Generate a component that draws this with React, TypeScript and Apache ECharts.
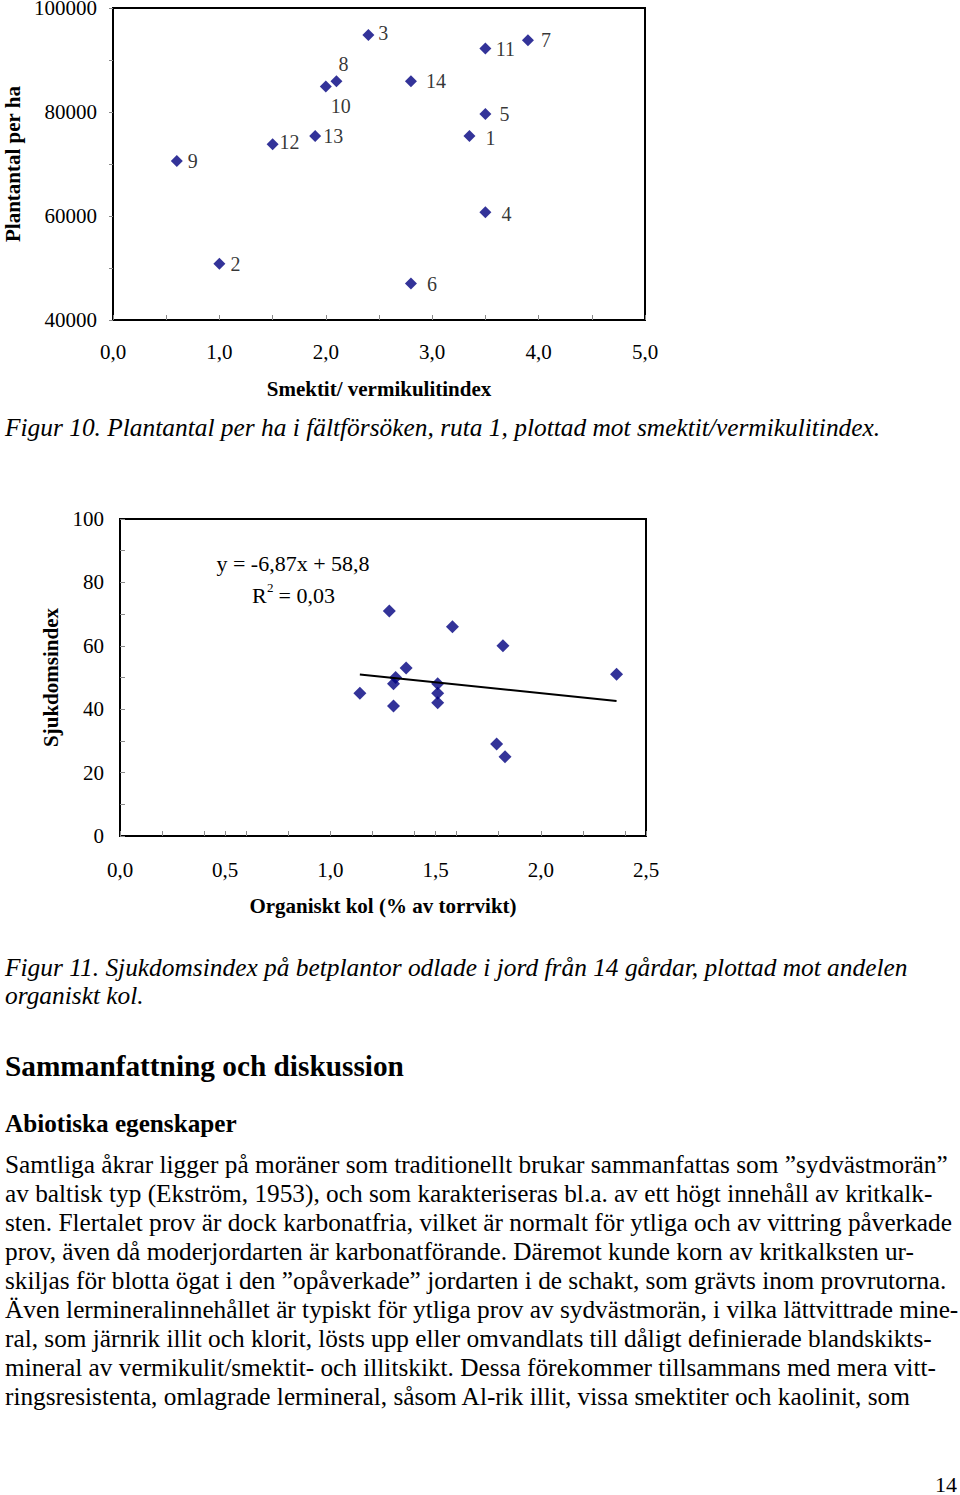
import React, { useEffect, useRef } from "react";
import * as echarts from "echarts";

const F = '"Liberation Serif", "Times New Roman", serif';

// Figur 10 – plantantal vs smektit/vermikulitindex
const fig10Ids = ["9", "2", "12", "13", "10", "8", "3", "14", "6", "1", "11", "5", "4", "7"];
const fig10X = [0.6, 1.0, 1.5, 1.9, 2.0, 2.1, 2.4, 2.8, 2.8, 3.35, 3.5, 3.5, 3.5, 3.9];
const fig10Y = [70600, 50800, 73800, 75400, 84900, 85900, 94800, 85900, 47000, 75400, 92200, 79600, 60700, 93800];
// label offsets (px) relative to each marker, same order as fig10Ids
const fig10LabelOffsets = [
  [16, 0], [16, 0], [17, -2], [18, 0], [15, 19], [7, -17], [15, -2],
  [25, 0], [21, 0], [21, 2], [20, 0], [19, 0], [21, 2], [18, 0],
];

// Figur 11 – sjukdomsindex vs organiskt kol
const fig11X = [1.28, 1.58, 1.82, 2.36, 1.36, 1.31, 1.3, 1.14, 1.3, 1.51, 1.51, 1.51, 1.79, 1.83];
const fig11Y = [71, 66, 60, 51, 53, 50, 48, 45, 41, 48, 45, 42, 29, 25];
const trendSlope = -6.87;
const trendIntercept = 58.8;

const fig10Caption = "Figur 10. Plantantal per ha i fältförsöken, ruta 1, plottad mot smektit/vermikulitindex.";
const fig11Caption = [
  "Figur 11. Sjukdomsindex på betplantor odlade i jord från 14 gårdar, plottad mot andelen",
  "organiskt kol.",
];
const heading = "Sammanfattning och diskussion";
const subheading = "Abiotiska egenskaper";
const bodyLines = [
  "Samtliga åkrar ligger på moräner som traditionellt brukar sammanfattas som ”sydvästmorän”",
  "av baltisk typ (Ekström, 1953), och som karakteriseras bl.a. av ett högt innehåll av kritkalk-",
  "sten. Flertalet prov är dock karbonatfria, vilket är normalt för ytliga och av vittring påverkade",
  "prov, även då moderjordarten är karbonatförande. Däremot kunde korn av kritkalksten ur-",
  "skiljas för blotta ögat i den ”opåverkade” jordarten i de schakt, som grävts inom provrutorna.",
  "Även lermineralinnehållet är typiskt för ytliga prov av sydvästmorän, i vilka lättvittrade mine-",
  "ral, som järnrik illit och klorit, lösts upp eller omvandlats till dåligt definierade blandskikts-",
  "mineral av vermikulit/smektit- och illitskikt. Dessa förekommer tillsammans med mera vitt-",
  "ringsresistenta, omlagrade lermineral, såsom Al-rik illit, vissa smektiter och kaolinit, som",
];
const pageNumber = "14";

const comma = (v: number) => v.toFixed(1).replace(".", ",");

export default function App() {
  const ref = useRef<HTMLDivElement>(null);

  useEffect(() => {
    document.body.style.margin = "0";
    if (!ref.current) return;
    const chart = echarts.init(ref.current, null, { renderer: "svg" });

    const tickStyle = { color: "#8a8a8a", width: 1 };
    const axisLineStyle = { show: true, lineStyle: { color: "#000", width: 2 } };
    const labelStyle = { color: "#000", fontFamily: F, fontSize: 21 };
    const nameStyle = { color: "#000", fontFamily: F, fontSize: 21, fontWeight: "bold" as const };

    const trendXs = [Math.min(...fig11X), Math.max(...fig11X)];
    const trendData = trendXs.map((x) => [x, trendSlope * x + trendIntercept]);

    const textEl = (text: string, x: number, y: number, size: number, extra: any = {}) => ({
      type: "text",
      x,
      y,
      style: {
        text,
        fill: "#000",
        fontFamily: F,
        fontSize: size,
        verticalAlign: "middle",
        align: "left",
        ...extra,
      },
    });

    const graphics: any[] = [
      textEl("y = -6,87x + 58,8", 293, 563, 22, { align: "center" }),
      textEl("R", 252, 595, 22),
      textEl("2", 267, 587, 13),
      textEl(" = 0,03", 273, 595, 22),
      textEl(fig10Caption, 5, 427, 25.4, { fontStyle: "italic" }),
      textEl(fig11Caption[0], 5, 967, 25.4, { fontStyle: "italic" }),
      textEl(fig11Caption[1], 5, 995, 25.4, { fontStyle: "italic" }),
      textEl(heading, 5, 1066, 29.3, { fontWeight: "bold" }),
      textEl(subheading, 5, 1123, 25.2, { fontWeight: "bold" }),
      ...bodyLines.map((l, i) => textEl(l, 5, 1164 + i * 29, 25.3)),
      textEl(pageNumber, 946, 1484, 22, { align: "center" }),
    ];

    chart.setOption({
      animation: false,
      backgroundColor: "#fff",
      grid: [
        { left: 113, top: 8, width: 532, height: 312, show: true, borderColor: "#000", borderWidth: 2, containLabel: false, outerBoundsMode: "none" },
        { left: 120, top: 519, width: 526, height: 317, show: true, borderColor: "#000", borderWidth: 2, containLabel: false, outerBoundsMode: "none" },
      ],
      xAxis: [
        {
          gridIndex: 0,
          type: "value",
          min: 0,
          max: 5,
          interval: 1,
          axisLine: axisLineStyle,
          axisTick: { show: true, inside: true, length: 5, lineStyle: tickStyle },
          minorTick: { show: true, splitNumber: 2, length: 5, lineStyle: tickStyle },
          splitLine: { show: false },
          axisLabel: { ...labelStyle, margin: 21, formatter: comma },
          name: "Smektit/ vermikulitindex",
          nameLocation: "middle",
          nameGap: 58,
          nameTextStyle: nameStyle,
        },
        {
          gridIndex: 1,
          type: "value",
          min: 0,
          max: 2.5,
          interval: 0.5,
          axisLine: axisLineStyle,
          axisTick: { show: true, inside: true, length: 5, lineStyle: tickStyle },
          splitLine: { show: false },
          axisLabel: { ...labelStyle, margin: 23, formatter: comma },
          name: "Organiskt kol (% av torrvikt)",
          nameLocation: "middle",
          nameGap: 59,
          nameTextStyle: nameStyle,
        },
        {
          gridIndex: 1,
          type: "value",
          position: "bottom",
          min: 0,
          max: 2.5,
          interval: 0.2,
          axisLine: { show: false },
          axisTick: { show: true, inside: true, length: 5, lineStyle: tickStyle },
          axisLabel: { show: false },
          splitLine: { show: false },
        },
      ],
      yAxis: [
        {
          gridIndex: 0,
          type: "value",
          min: 40000,
          max: 100000,
          interval: 20000,
          axisLine: axisLineStyle,
          axisTick: { show: true, inside: false, length: 4, lineStyle: tickStyle },
          minorTick: { show: true, splitNumber: 2, length: 4, lineStyle: tickStyle },
          splitLine: { show: false },
          axisLabel: { ...labelStyle, margin: 16, formatter: (v: number) => String(v) },
          name: "Plantantal per ha",
          nameLocation: "middle",
          nameGap: 90,
          nameTextStyle: nameStyle,
        },
        {
          gridIndex: 1,
          type: "value",
          min: 0,
          max: 100,
          interval: 20,
          axisLine: axisLineStyle,
          axisTick: { show: true, inside: true, length: 5, lineStyle: tickStyle },
          minorTick: { show: true, splitNumber: 2, length: 5, lineStyle: tickStyle },
          splitLine: { show: false },
          axisLabel: { ...labelStyle, margin: 16, formatter: (v: number) => String(v) },
          name: "Sjukdomsindex",
          nameLocation: "middle",
          nameGap: 59,
          nameTextStyle: nameStyle,
        },
      ],
      series: [
        {
          type: "scatter",
          xAxisIndex: 0,
          yAxisIndex: 0,
          symbol: "diamond",
          symbolSize: 12,
          itemStyle: { color: "#000080" },
          data: fig10X.map((x, i) => ({
            value: [x, fig10Y[i]],
            label: {
              show: true,
              formatter: fig10Ids[i],
              position: "inside",
              offset: fig10LabelOffsets[i],
              color: "#000",
              fontFamily: F,
              fontSize: 20,
            },
          })),
        },
        {
          type: "scatter",
          xAxisIndex: 1,
          yAxisIndex: 1,
          symbol: "diamond",
          symbolSize: 13,
          itemStyle: { color: "#000080" },
          data: fig11X.map((x, i) => [x, fig11Y[i]]),
        },
        {
          type: "line",
          xAxisIndex: 1,
          yAxisIndex: 1,
          symbol: "none",
          lineStyle: { color: "#000", width: 2 },
          data: trendData,
        },
      ],
      graphic: graphics,
    });

    return () => chart.dispose();
  }, []);

  return <div ref={ref} style={{ position: "absolute", left: 0, top: 0, width: 960, height: 1495 }} />;
}
